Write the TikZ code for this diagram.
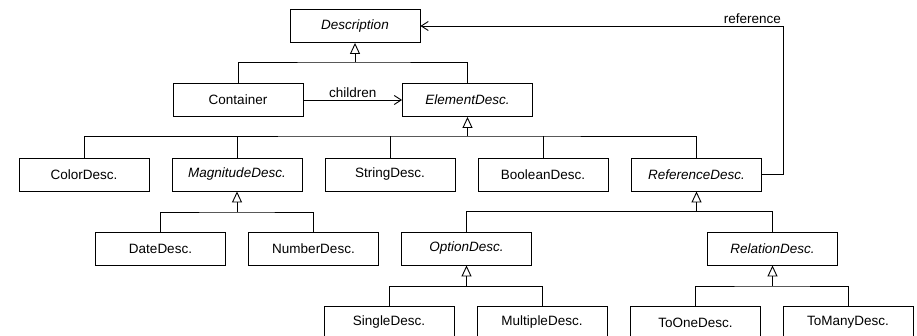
\documentclass[tikz,border=0pt]{standalone}
\usepackage{fontspec}
\setmainfont{Liberation Sans}
\usetikzlibrary{arrows.meta}

\begin{document}
\begin{tikzpicture}[x=1pt, y=-1pt, font=\fontsize{13.5}{16}\selectfont, line join=miter,
    cls/.style={draw, line width=0.9pt, minimum width=130pt, minimum height=33pt, inner sep=0pt},
    abs/.style={cls, font=\fontsize{13.5}{16}\selectfont\itshape},
    link/.style={line width=0.9pt},
    inherit/.style={line width=0.9pt, -{Triangle[open, length=11pt, width=10pt]}},
    assoc/.style={line width=0.9pt, -{Straight Barb[length=7pt, width=9pt]}}]
    \clip (0,0) rectangle (917,336);
    % classes
    \node[abs] (desc) at (355,26) {Description};
    \node[cls] (cont) at (238,100) {Container};
    \node[abs] (elem) at (467.5,100) {ElementDesc.};
    \node[cls] (color) at (84,174.5) {ColorDesc.};
    \node[abs] (mag) at (237,174.5) {MagnitudeDesc.};
    \node[cls] (string) at (390,174.5) {StringDesc.};
    \node[cls] (bool) at (543,174.5) {BooleanDesc.};
    \node[abs] (ref) at (696.5,174.5) {ReferenceDesc.};
    \node[cls] (date) at (160.5,248.5) {DateDesc.};
    \node[cls] (number) at (313.5,248.5) {NumberDesc.};
    \node[abs] (option) at (466.5,248.5) {OptionDesc.};
    \node[abs] (relation) at (772.5,248.5) {RelationDesc.};
    \node[cls] (single) at (389,322.5) {SingleDesc.};
    \node[cls] (multiple) at (542,322.5) {MultipleDesc.};
    \node[cls] (toone) at (695.5,322.5) {ToOneDesc.};
    \node[cls] (tomany) at (848,322.5) {ToManyDesc.};
    % junctions of the generalisation trees
    \coordinate (descbar) at (355,62);
    \coordinate (elembar) at (467.5,136);
    \coordinate (magbar) at (237,212);
    \coordinate (refbar) at (696.5,211.5);
    \coordinate (optbar) at (466.5,286.5);
    \coordinate (relbar) at (772.5,286);
    % generalisations
    \draw[inherit] (descbar) -- (desc.south);
    \draw[link] (cont.north) |- (descbar) -| (elem.north);
    \draw[inherit] (elembar) -- (elem.south);
    \draw[link] (color.north) |- (elembar) -| (ref.north);
    \draw[link] (mag.north) -- (mag.north |- elembar);
    \draw[link] (string.north) -- (string.north |- elembar);
    \draw[link] (bool.north) -- (bool.north |- elembar);
    \draw[inherit] (magbar) -- (mag.south);
    \draw[link] (date.north) |- (magbar) -| (number.north);
    \draw[inherit] (refbar) -- (ref.south);
    \draw[link] (option.north) |- (refbar) -| (relation.north);
    \draw[inherit] (optbar) -- (option.south);
    \draw[link] (single.north) |- (optbar) -| (multiple.north);
    \draw[inherit] (relbar) -- (relation.south);
    \draw[link] (toone.north) |- (relbar) -| (tomany.north);
    % associations
    \draw[assoc] (cont.east) -- node[above, inner sep=2pt] {children} (elem.west);
    \draw[assoc] (ref.east) -- ++(21,0) |- node[pos=0.5, above left, inner sep=1.5pt] {reference} (desc.east);
\end{tikzpicture}
\end{document}
